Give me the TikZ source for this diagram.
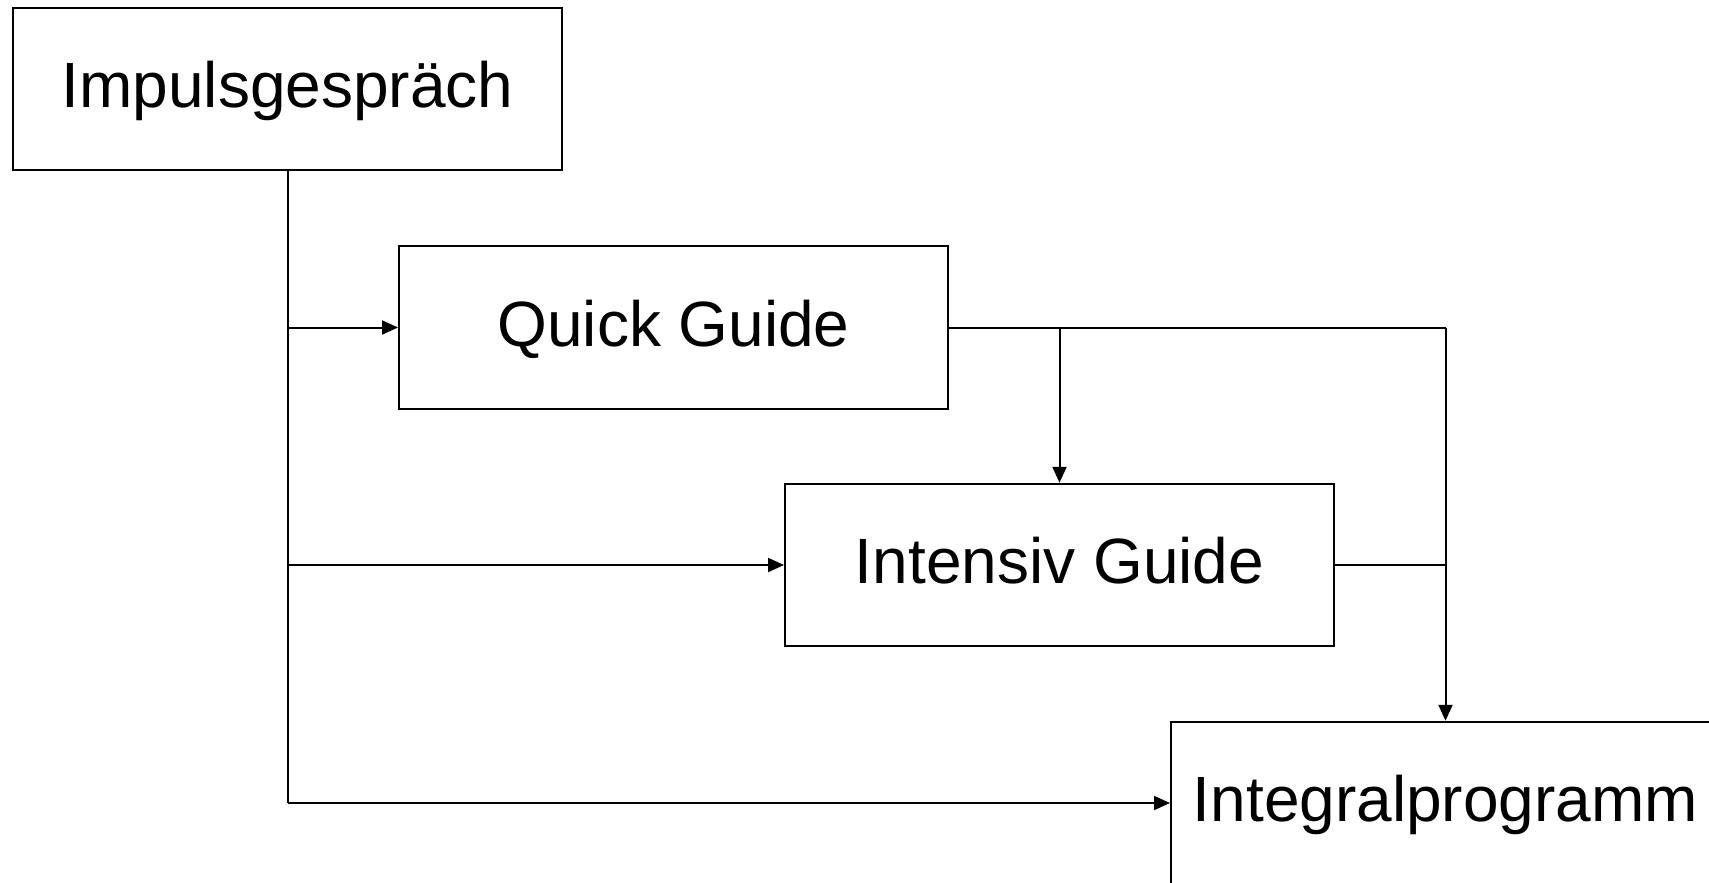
\documentclass[tikz,border=0pt]{standalone}
\usepackage{fontspec}
\setmainfont{Liberation Sans}
\usetikzlibrary{arrows.meta}
\begin{document}
\begin{tikzpicture}[x=0.5pt,y=-0.5pt,
  stage/.style={draw=black, line width=1pt, rectangle, minimum width=274.5pt,
    minimum height=81.25pt, inner sep=0pt, font=\fontsize{32}{38}\selectfont,
    text height=18.5pt, text depth=0pt, anchor=center},
  link/.style={line width=1pt, draw=black},
  flow/.style={link, -{Triangle[length=8pt,width=7pt]}}]
  \useasboundingbox (0,0) rectangle (1709,883);

  % programme stages, stepping down to the right
  \node[stage] (imp) at (287.5,89) {Impulsgespräch};
  \node[stage] (quick) at (673.5,327.5) {Quick Guide};
  \node[stage] (intens) at (1059.5,565) {Intensiv Guide};
  \node[stage] (integ) at (1445.5,803) {Integralprogramm};

  % junction points on the left trunk
  \coordinate (tq) at (imp.south |- quick.west);
  \coordinate (ti) at (imp.south |- intens.west);
  \coordinate (tg) at (imp.south |- integ.west);
  % junction points on the right-hand routes
  \coordinate (qi) at (intens.north |- quick.east);
  \coordinate (qg) at (integ.north |- quick.east);
  \coordinate (ig) at (integ.north |- intens.east);

  % trunk from the first talk to every later stage
  \draw[link] (imp.south) -- (tg);
  \draw[flow] (tg) -- (integ.west);
  \draw[flow] (tq) -- (quick.west);
  \draw[flow] (ti) -- (intens.west);

  % routes on from Quick Guide and Intensiv Guide
  \draw[link] (quick.east) -- (qg);
  \draw[flow] (qg) -- (integ.north);
  \draw[flow] (qi) -- (intens.north);
  \draw[link] (intens.east) -- (ig);
\end{tikzpicture}
\end{document}
